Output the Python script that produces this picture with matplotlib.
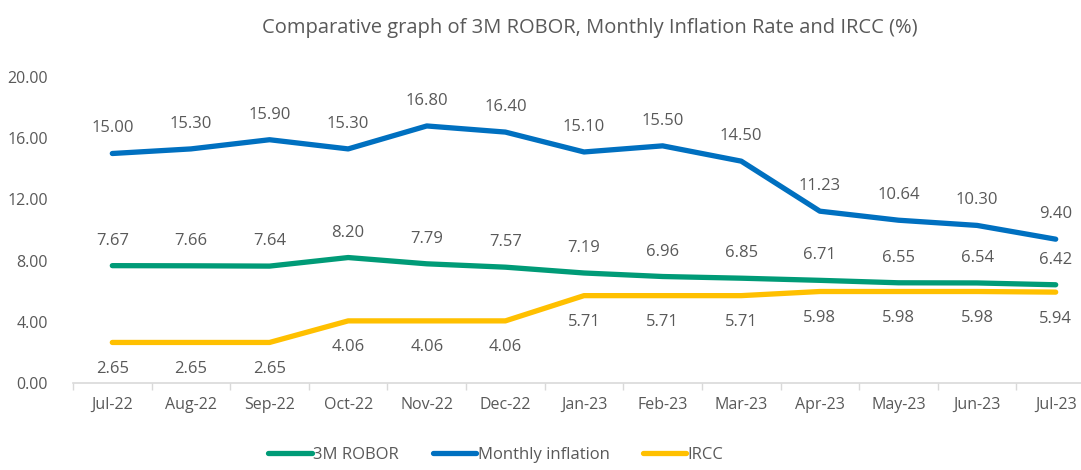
import matplotlib.pyplot as plt
import numpy as np

plt.rcParams['font.family'] = ['Open Sans', 'DejaVu Sans']

months = ['Jul-22', 'Aug-22', 'Sep-22', 'Oct-22', 'Nov-22', 'Dec-22', 'Jan-23',
          'Feb-23', 'Mar-23', 'Apr-23', 'May-23', 'Jun-23', 'Jul-23']
robor = [7.67, 7.66, 7.64, 8.20, 7.79, 7.57, 7.19, 6.96, 6.85, 6.71, 6.55, 6.54, 6.42]
inflation = [15.00, 15.30, 15.90, 15.30, 16.80, 16.40, 15.10, 15.50, 14.50, 11.23, 10.64, 10.30, 9.40]
ircc = [2.65, 2.65, 2.65, 4.06, 4.06, 4.06, 5.71, 5.71, 5.71, 5.98, 5.98, 5.98, 5.94]

txt = '#595959'
green = '#009B77'
blue = '#0070C0'
yellow = '#FFC000'

fig = plt.figure(figsize=(10.81, 4.70), dpi=100)
ax = fig.add_axes([73 / 1081, 87 / 470, (1095 - 73) / 1081, 306 / 470])
x = np.arange(len(months))

ax.plot(x, robor, color=green, lw=3.8, solid_capstyle='round', label='3M ROBOR')
ax.plot(x, inflation, color=blue, lw=3.8, solid_capstyle='round', label='Monthly inflation')
ax.plot(x, ircc, color=yellow, lw=3.8, solid_capstyle='round', label='IRCC')

# data labels: green and blue above, yellow below
for i in x:
    ax.annotate('%.2f' % robor[i], (i, robor[i]), xytext=(0, 18), textcoords='offset points',
                ha='center', va='center', fontsize=12, color=txt)
    ax.annotate('%.2f' % inflation[i], (i, inflation[i]), xytext=(0, 18), textcoords='offset points',
                ha='center', va='center', fontsize=12, color=txt)
    ax.annotate('%.2f' % ircc[i], (i, ircc[i]), xytext=(0, -19), textcoords='offset points',
                ha='center', va='center', fontsize=12, color=txt)

ax.set_xlim(-0.5, len(months) - 0.5)
ax.set_ylim(0, 20)
ax.set_yticks(np.arange(0, 21, 4))
ax.set_yticklabels(['%.2f' % v for v in np.arange(0, 21, 4)])
ax.set_xticks(x)
ax.set_xticklabels(months)
ax.set_xticks(np.arange(-0.5, len(months), 1), minor=True)
ax.tick_params(axis='x', which='major', length=0, pad=10, labelsize=11.5, colors=txt)
ax.tick_params(axis='x', which='minor', length=5, color='#D9D9D9', width=1)
ax.tick_params(axis='y', length=0, pad=18, labelsize=11.5, colors=txt)
for s in ['top', 'right', 'left']:
    ax.spines[s].set_visible(False)
ax.spines['bottom'].set_color('#D9D9D9')
ax.spines['bottom'].set_linewidth(1.2)

fig.text(590 / 1081, 1 - 28 / 470, 'Comparative graph of 3M ROBOR, Monthly Inflation Rate and IRCC (%)',
         ha='center', va='center', fontsize=14.5, color=txt)

fig.legend(loc='center', bbox_to_anchor=(496 / 1081, 1 - 455 / 470), ncol=3, frameon=False,
           fontsize=12, labelcolor=txt, handlelength=2.6, handletextpad=0.1, columnspacing=2.0)

fig.savefig('out.png', dpi=100)
